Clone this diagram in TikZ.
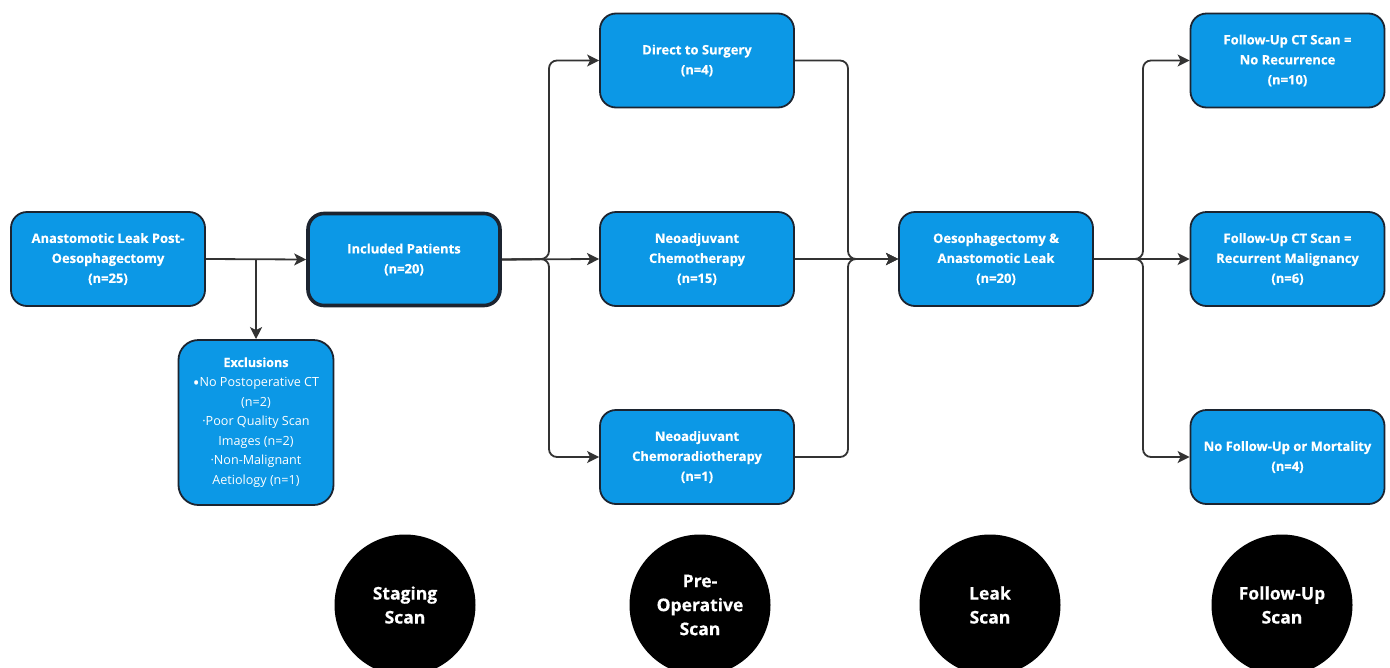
\documentclass[tikz,border=0pt]{standalone}
\usepackage{fontspec}
\setmainfont{Open Sans}[BoldFeatures={FakeBold=0.35}]
\usetikzlibrary{arrows.meta,calc}
\definecolor{boxblue}{HTML}{0C98E6}
\definecolor{edgedark}{HTML}{1C2430}
\definecolor{linegray}{HTML}{333333}
\newcommand{\bigbul}{{\fontsize{18}{19.6}\selectfont\raisebox{-2.6pt}{•}}}
\tikzset{
  flowbox/.style={rectangle, rounded corners=16pt, draw=edgedark, line width=1.8pt,
    fill=boxblue, text=white, align=center, minimum width=194pt, minimum height=94pt,
    inner sep=0pt, font=\fontsize{13}{20}\selectfont\bfseries},
  thickbox/.style={flowbox, line width=3.6pt, minimum width=192pt, minimum height=92pt},
  exclbox/.style={rectangle, rounded corners=20pt, draw=edgedark, line width=1.8pt,
    fill=boxblue, text=white, align=center, minimum width=155pt, minimum height=165pt,
    inner sep=0pt, font=\fontsize{12.6}{19.6}\selectfont},
  phase/.style={circle, fill=black, text=white, align=center, minimum size=141pt,
    inner sep=0pt, font=\fontsize{17.5}{24}\selectfont\bfseries},
  conn/.style={draw=linegray, line width=1.8pt, rounded corners=8pt,
    -{Stealth[length=12pt,width=12pt,inset=3pt]}}
}
\begin{document}
\begin{tikzpicture}[x=1pt,y=-1pt]
\useasboundingbox (0,0) rectangle (1390,667);
\fill[white] (0,0) rectangle (1390,667);

% boxes
\node[flowbox] (leak) at (108,259) {Anastomotic Leak Post-\\Oesophagectomy\\(n=25)};
\node[thickbox] (inc) at (404,259.5) {Included Patients\\(n=20)};
\node[exclbox] (excl) at (256,422.5) {{\bfseries Exclusions}\\\bigbul No Postoperative CT\\(n=2)\\·Poor Quality Scan\\Images (n=2)\\·Non-Malignant\\Aetiology (n=1)};
\node[flowbox] (dts) at (697,60.5) {Direct to Surgery\\(n=4)};
\node[flowbox] (nc) at (697,259) {Neoadjuvant\\Chemotherapy\\(n=15)};
\node[flowbox] (ncr) at (697,457) {Neoadjuvant\\Chemoradiotherapy\\(n=1)};
\node[flowbox] (oes) at (996,259) {Oesophagectomy \&\\Anastomotic Leak\\(n=20)};
\node[flowbox] (fu1) at (1287.5,60.5) {Follow-Up CT Scan =\\No Recurrence\\(n=10)};
\node[flowbox] (fu2) at (1287.5,259) {Follow-Up CT Scan =\\Recurrent Malignancy\\(n=6)};
\node[flowbox] (fu3) at (1287.5,457) {No Follow-Up or Mortality\\(n=4)};

% phase circles
\node[phase] (p1) at (405,605) {Staging\\Scan};
\node[phase] (p2) at (700,605) {Pre-\\Operative\\Scan};
\node[phase] (p3) at (990,605) {Leak\\Scan};
\node[phase] (p4) at (1282,605) {Follow-Up\\Scan};

% connectors
\coordinate (sp) at ($(leak.east)!0.5!(inc.west)$);
\draw[conn] (leak.east) -- (inc.west);
\draw[conn] (sp) -- (sp |- excl.north);

\coordinate (j1) at (549,259);
\draw[conn] (inc.east) -- (j1) |- (dts.west);
\draw[conn] (inc.east) -- (nc.west);
\draw[conn] (inc.east) -- (j1) |- (ncr.west);

\coordinate (j2) at (848,259);
\draw[conn] (dts.east) -| (j2) -- (oes.west);
\draw[conn] (nc.east) -- (oes.west);
\draw[conn] (ncr.east) -| (j2) -- (oes.west);

\coordinate (j3) at (1143,259);
\draw[conn] (oes.east) -- (j3) |- (fu1.west);
\draw[conn] (oes.east) -- (fu2.west);
\draw[conn] (oes.east) -- (j3) |- (fu3.west);
\end{tikzpicture}
\end{document}
